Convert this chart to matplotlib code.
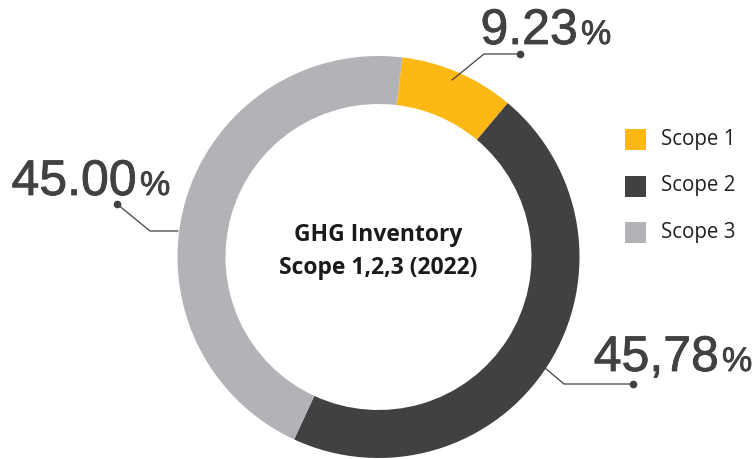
import matplotlib.pyplot as plt
import matplotlib.patheffects as pe

# GHG inventory share by scope, 2022
scopes = ["Scope 1", "Scope 2", "Scope 3"]
shares = [9.23, 45.78, 45.00]
share_labels = ["9.23", "45,78", "45.00"]
colors = ["#FDB813", "#414042", "#B1B3B6"]

W, H = 756, 459
text_dark = "#414042"


def fy(y):
	# pixel rows are counted from the top
	return H - y


fig = plt.figure(figsize=(W / 100, H / 100), dpi=100)
ax = fig.add_axes([0, 0, 1, 1])

cx, cy, r = 378.5, 257, 201
ax.pie(shares, colors=colors, radius=r, center=(cx, fy(cy)),
	startangle=83.2, counterclock=False,
	wedgeprops=dict(width=48, linewidth=0))

ax.set_xlim(0, W)
ax.set_ylim(0, H)
ax.set_aspect("equal")
ax.axis("off")

# centre title
ax.text(cx, fy(235), "GHG Inventory", ha="center", va="center",
	fontsize=16.5, fontweight="bold", family="Open Sans", color="#1a1a1a")
ax.text(cx, fy(268), "Scope 1,2,3 (2022)", ha="center", va="center",
	fontsize=16.5, fontweight="bold", family="Open Sans", color="#1a1a1a")

# leader lines: ring point -> elbow -> dot
leaders = [
	[(452, 80), (484, 54), (520, 54)],
	[(545, 368), (564, 384), (633, 384)],
	[(178, 231), (150, 231), (117, 204)],
]
for path in leaders:
	xs = [p[0] for p in path]
	ys = [fy(p[1]) for p in path]
	ax.plot(xs, ys, color=text_dark, lw=0.9, solid_capstyle="round")
	ax.plot(xs[-1], ys[-1], "o", color=text_dark, ms=4.5)

# value labels: number end x, baseline y
thick = [pe.withStroke(linewidth=0.6, foreground=text_dark)]
label_pos = [(578, 44), (719, 371), (137, 195)]
for txt, (x, y) in zip(share_labels, label_pos):
	ax.text(x, fy(y), txt, ha="right", va="baseline", fontsize=36,
		family="Liberation Sans", color=text_dark, path_effects=thick)
	ax.text(x + 3, fy(y), "%", ha="left", va="baseline", fontsize=24.5,
		family="Liberation Sans", color=text_dark, path_effects=thick)

# legend
for i, (name, c) in enumerate(zip(scopes, colors)):
	top = 129 + i * 46.5
	ax.add_patch(plt.Rectangle((625, fy(top + 21)), 21, 21, color=c, lw=0))
	ax.text(661, fy(top + 10.5), name, ha="left", va="center",
		fontsize=14.8, family="Open Sans", color="#231f20")

fig.savefig("out.png", dpi=100)
